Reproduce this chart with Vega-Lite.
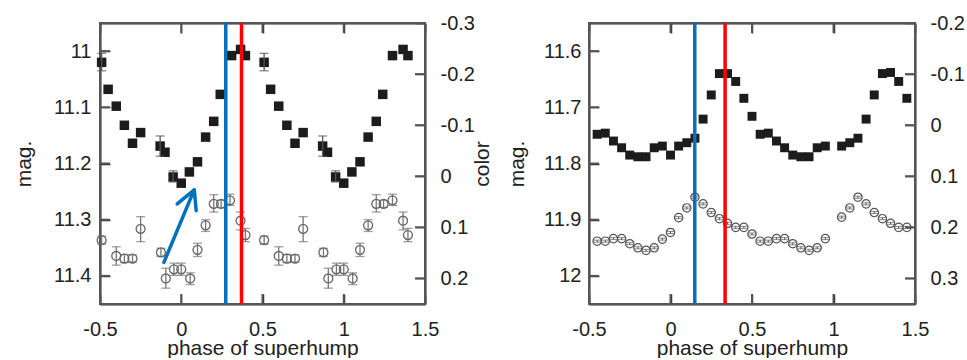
{
  "$schema": "https://vega.github.io/schema/vega-lite/v6.json",
  "background": "white",
  "padding": {"left": 13, "top": 13, "right": 2, "bottom": 0},
  "spacing": 13,
  "config": {
    "locale": {"number": {"decimal": ".", "thousands": ",", "grouping": [3], "currency": ["$", ""], "minus": "-"}},
    "font": "Liberation Sans",
    "view": {"stroke": null},
    "axis": {"domain": true, "domainColor": "#2a2a2a", "domainWidth": 2, "grid": false, "ticks": true, "tickSize": -10, "tickColor": "#2a2a2a", "tickWidth": 1.5,
      "labelFlush": false, "labelFont": "Liberation Sans", "labelFontSize": 20, "labelColor": "#222",
      "titleFont": "Liberation Sans", "titleFontSize": 21, "titleFontWeight": "normal", "titleColor": "#222"}
  },
  "datasets": {
    "xticks": [{"v": -0.5}, {"v": 0}, {"v": 0.5}, {"v": 1}, {"v": 1.5}],
    "magTicksL": [{"v": 11}, {"v": 11.1}, {"v": 11.2}, {"v": 11.3}, {"v": 11.4}],
    "colTicksL": [{"v": -0.2}, {"v": -0.1}, {"v": 0}, {"v": 0.1}, {"v": 0.2}],
    "magTicksR": [{"v": 11.6}, {"v": 11.7}, {"v": 11.8}, {"v": 11.9}, {"v": 12}],
    "colTicksR": [{"v": -0.1}, {"v": 0}, {"v": 0.1}, {"v": 0.2}, {"v": 0.3}],
    "sqL": [
      {"phase": -0.49, "mag": 11.020}, {"phase": -0.45, "mag": 11.068}, {"phase": -0.40, "mag": 11.098},
      {"phase": -0.35, "mag": 11.132}, {"phase": -0.30, "mag": 11.164}, {"phase": -0.25, "mag": 11.145},
      {"phase": -0.13, "mag": 11.169}, {"phase": -0.10, "mag": 11.180}, {"phase": -0.05, "mag": 11.224},
      {"phase": 0.00, "mag": 11.235}, {"phase": 0.05, "mag": 11.215}, {"phase": 0.10, "mag": 11.197},
      {"phase": 0.15, "mag": 11.153}, {"phase": 0.20, "mag": 11.125}, {"phase": 0.24, "mag": 11.077},
      {"phase": 0.31, "mag": 11.008}, {"phase": 0.365, "mag": 10.997}, {"phase": 0.395, "mag": 11.008},
      {"phase": 0.51, "mag": 11.020}, {"phase": 0.55, "mag": 11.068}, {"phase": 0.60, "mag": 11.098},
      {"phase": 0.65, "mag": 11.132}, {"phase": 0.70, "mag": 11.164}, {"phase": 0.75, "mag": 11.145},
      {"phase": 0.87, "mag": 11.169}, {"phase": 0.90, "mag": 11.180}, {"phase": 0.95, "mag": 11.224},
      {"phase": 1.00, "mag": 11.235}, {"phase": 1.05, "mag": 11.215}, {"phase": 1.10, "mag": 11.197},
      {"phase": 1.15, "mag": 11.153}, {"phase": 1.20, "mag": 11.125}, {"phase": 1.24, "mag": 11.077},
      {"phase": 1.30, "mag": 11.008}, {"phase": 1.365, "mag": 10.997}, {"phase": 1.395, "mag": 11.008}
    ],
    "errSqL": [
      {"phase": -0.49, "lo": 11.004, "hi": 11.035}, {"phase": -0.13, "lo": 11.151, "hi": 11.187},
      {"phase": -0.05, "lo": 11.213, "hi": 11.233}, {"phase": 0.51, "lo": 11.004, "hi": 11.035},
      {"phase": 0.87, "lo": 11.151, "hi": 11.187}, {"phase": 0.95, "lo": 11.213, "hi": 11.233}
    ],
    "circL": [
      {"phase": -0.49, "color": 0.125, "lo": 0.117, "hi": 0.133}, {"phase": -0.40, "color": 0.156, "lo": 0.138, "hi": 0.174},
      {"phase": -0.35, "color": 0.161, "lo": 0.153, "hi": 0.169}, {"phase": -0.30, "color": 0.161, "lo": 0.154, "hi": 0.168},
      {"phase": -0.25, "color": 0.103, "lo": 0.079, "hi": 0.128}, {"phase": -0.125, "color": 0.149, "lo": 0.141, "hi": 0.157},
      {"phase": -0.095, "color": 0.200, "lo": 0.180, "hi": 0.219}, {"phase": -0.045, "color": 0.182, "lo": 0.170, "hi": 0.194},
      {"phase": 0.0, "color": 0.182, "lo": 0.170, "hi": 0.194}, {"phase": 0.055, "color": 0.200, "lo": 0.189, "hi": 0.212},
      {"phase": 0.10, "color": 0.144, "lo": 0.131, "hi": 0.157}, {"phase": 0.15, "color": 0.096, "lo": 0.085, "hi": 0.108},
      {"phase": 0.20, "color": 0.054, "lo": 0.036, "hi": 0.070}, {"phase": 0.245, "color": 0.054, "lo": 0.047, "hi": 0.061},
      {"phase": 0.30, "color": 0.047, "lo": 0.035, "hi": 0.057}, {"phase": 0.365, "color": 0.087, "lo": 0.070, "hi": 0.105},
      {"phase": 0.395, "color": 0.115, "lo": 0.102, "hi": 0.128},
      {"phase": 0.51, "color": 0.125, "lo": 0.117, "hi": 0.133}, {"phase": 0.60, "color": 0.156, "lo": 0.138, "hi": 0.174},
      {"phase": 0.65, "color": 0.161, "lo": 0.153, "hi": 0.169}, {"phase": 0.70, "color": 0.161, "lo": 0.154, "hi": 0.168},
      {"phase": 0.75, "color": 0.103, "lo": 0.079, "hi": 0.128}, {"phase": 0.875, "color": 0.149, "lo": 0.141, "hi": 0.157},
      {"phase": 0.905, "color": 0.200, "lo": 0.180, "hi": 0.219}, {"phase": 0.955, "color": 0.182, "lo": 0.170, "hi": 0.194},
      {"phase": 1.0, "color": 0.182, "lo": 0.170, "hi": 0.194}, {"phase": 1.055, "color": 0.200, "lo": 0.189, "hi": 0.212},
      {"phase": 1.10, "color": 0.144, "lo": 0.131, "hi": 0.157}, {"phase": 1.15, "color": 0.096, "lo": 0.085, "hi": 0.108},
      {"phase": 1.20, "color": 0.054, "lo": 0.036, "hi": 0.070}, {"phase": 1.245, "color": 0.054, "lo": 0.047, "hi": 0.061},
      {"phase": 1.30, "color": 0.047, "lo": 0.035, "hi": 0.057}, {"phase": 1.365, "color": 0.087, "lo": 0.070, "hi": 0.105},
      {"phase": 1.395, "color": 0.115, "lo": 0.102, "hi": 0.128}
    ],
    "arrowL": [
      {"xa": -0.107, "xb": 0.075, "ya": 11.376, "yb": 11.250},
      {"xa": -0.025, "xb": 0.080, "ya": 11.272, "yb": 11.247},
      {"xa": 0.092, "xb": 0.080, "ya": 11.284, "yb": 11.247}
    ],
    "linesL": [{"phase": 0.274, "line": "first"}, {"phase": 0.371, "line": "second"}],
    "sqR": [
      {"phase": -0.45, "mag": 11.748}, {"phase": -0.40, "mag": 11.746}, {"phase": -0.35, "mag": 11.760},
      {"phase": -0.30, "mag": 11.772}, {"phase": -0.25, "mag": 11.785}, {"phase": -0.20, "mag": 11.788},
      {"phase": -0.15, "mag": 11.788}, {"phase": -0.10, "mag": 11.772}, {"phase": -0.05, "mag": 11.769},
      {"phase": 0.00, "mag": 11.785}, {"phase": 0.05, "mag": 11.769}, {"phase": 0.10, "mag": 11.763},
      {"phase": 0.15, "mag": 11.755}, {"phase": 0.20, "mag": 11.721}, {"phase": 0.25, "mag": 11.678},
      {"phase": 0.30, "mag": 11.640}, {"phase": 0.35, "mag": 11.640}, {"phase": 0.40, "mag": 11.654},
      {"phase": 0.45, "mag": 11.684}, {"phase": 0.50, "mag": 11.716}, {"phase": 0.55, "mag": 11.748},
      {"phase": 0.60, "mag": 11.746}, {"phase": 0.65, "mag": 11.760}, {"phase": 0.70, "mag": 11.772},
      {"phase": 0.75, "mag": 11.785}, {"phase": 0.80, "mag": 11.788}, {"phase": 0.85, "mag": 11.788},
      {"phase": 0.90, "mag": 11.772}, {"phase": 0.95, "mag": 11.769}, {"phase": 1.05, "mag": 11.769},
      {"phase": 1.10, "mag": 11.763}, {"phase": 1.15, "mag": 11.755}, {"phase": 1.20, "mag": 11.721},
      {"phase": 1.25, "mag": 11.678}, {"phase": 1.30, "mag": 11.640}, {"phase": 1.35, "mag": 11.638},
      {"phase": 1.40, "mag": 11.654}, {"phase": 1.45, "mag": 11.684}
    ],
    "circR": [
      {"phase": -0.45, "color": 0.227, "lo": 0.225, "hi": 0.229}, {"phase": -0.40, "color": 0.227, "lo": 0.225, "hi": 0.229},
      {"phase": -0.35, "color": 0.222, "lo": 0.220, "hi": 0.224}, {"phase": -0.30, "color": 0.222, "lo": 0.220, "hi": 0.224},
      {"phase": -0.25, "color": 0.232, "lo": 0.230, "hi": 0.234}, {"phase": -0.20, "color": 0.240, "lo": 0.238, "hi": 0.242},
      {"phase": -0.15, "color": 0.245, "lo": 0.243, "hi": 0.247}, {"phase": -0.10, "color": 0.240, "lo": 0.238, "hi": 0.242},
      {"phase": -0.05, "color": 0.223, "lo": 0.221, "hi": 0.225}, {"phase": 0.00, "color": 0.210, "lo": 0.208, "hi": 0.212},
      {"phase": 0.05, "color": 0.181, "lo": 0.179, "hi": 0.183}, {"phase": 0.10, "color": 0.162, "lo": 0.160, "hi": 0.164},
      {"phase": 0.15, "color": 0.141, "lo": 0.139, "hi": 0.143}, {"phase": 0.20, "color": 0.154, "lo": 0.152, "hi": 0.156},
      {"phase": 0.25, "color": 0.171, "lo": 0.169, "hi": 0.173}, {"phase": 0.30, "color": 0.183, "lo": 0.181, "hi": 0.185},
      {"phase": 0.35, "color": 0.192, "lo": 0.190, "hi": 0.194}, {"phase": 0.40, "color": 0.200, "lo": 0.198, "hi": 0.202},
      {"phase": 0.45, "color": 0.200, "lo": 0.198, "hi": 0.202}, {"phase": 0.50, "color": 0.213, "lo": 0.211, "hi": 0.215},
      {"phase": 0.55, "color": 0.227, "lo": 0.225, "hi": 0.229}, {"phase": 0.60, "color": 0.227, "lo": 0.225, "hi": 0.229},
      {"phase": 0.65, "color": 0.222, "lo": 0.220, "hi": 0.224}, {"phase": 0.70, "color": 0.222, "lo": 0.220, "hi": 0.224},
      {"phase": 0.75, "color": 0.232, "lo": 0.230, "hi": 0.234}, {"phase": 0.80, "color": 0.240, "lo": 0.238, "hi": 0.242},
      {"phase": 0.85, "color": 0.245, "lo": 0.243, "hi": 0.247}, {"phase": 0.90, "color": 0.240, "lo": 0.238, "hi": 0.242},
      {"phase": 0.95, "color": 0.222, "lo": 0.220, "hi": 0.224}, {"phase": 1.05, "color": 0.180, "lo": 0.178, "hi": 0.182},
      {"phase": 1.10, "color": 0.162, "lo": 0.160, "hi": 0.164}, {"phase": 1.15, "color": 0.141, "lo": 0.139, "hi": 0.143},
      {"phase": 1.20, "color": 0.154, "lo": 0.152, "hi": 0.156}, {"phase": 1.25, "color": 0.171, "lo": 0.169, "hi": 0.173},
      {"phase": 1.30, "color": 0.183, "lo": 0.181, "hi": 0.185}, {"phase": 1.35, "color": 0.192, "lo": 0.190, "hi": 0.194},
      {"phase": 1.40, "color": 0.200, "lo": 0.198, "hi": 0.202}, {"phase": 1.45, "color": 0.200, "lo": 0.198, "hi": 0.202}
    ],
    "linesR": [{"phase": 0.149, "line": "first"}, {"phase": 0.335, "line": "second"}]
  },
  "hconcat": [
    {
      "width": 325, "height": 281,
      "layer": [
        {"layer": [
          {"data": {"values": [{}]}, "mark": {"type": "rect", "filled": false, "stroke": "#555555", "fill": null, "strokeWidth": 2},
           "encoding": {
             "x": {"datum": -0.5, "type": "quantitative", "scale": {"domain": [-0.5, 1.5], "nice": false, "zero": false},
                   "axis": {"orient": "bottom", "values": [-0.5, 0, 0.5, 1, 1.5], "format": ".1~f", "labelPadding": 25, "title": "phase of superhump", "titlePadding": -2}},
             "x2": {"datum": 1.5},
             "y": {"datum": 10.95, "type": "quantitative", "scale": {"domain": [10.95, 11.45], "reverse": true, "nice": false, "zero": false},
                   "axis": {"orient": "left", "values": [11, 11.1, 11.2, 11.3, 11.4], "format": ".1~f", "labelPadding": 19, "title": "mag.", "titlePadding": 19}},
             "y2": {"datum": 11.45}}},
          {"data": {"name": "xticks"}, "mark": {"type": "tick", "orient": "vertical", "size": 20, "thickness": 2, "color": "#555555", "clip": true, "opacity": 1},
           "encoding": {"x": {"field": "v", "type": "quantitative"}, "y": {"datum": 11.45, "type": "quantitative"}}},
          {"data": {"name": "xticks"}, "mark": {"type": "tick", "orient": "vertical", "size": 20, "thickness": 2, "color": "#555555", "clip": true, "opacity": 1},
           "encoding": {"x": {"field": "v", "type": "quantitative"}, "y": {"datum": 10.95, "type": "quantitative"}}},
          {"data": {"name": "magTicksL"}, "mark": {"type": "tick", "orient": "horizontal", "size": 20, "thickness": 2, "color": "#555555", "clip": true, "opacity": 1},
           "encoding": {"y": {"field": "v", "type": "quantitative"}, "x": {"datum": -0.5, "type": "quantitative"}}},
          {"data": {"name": "sqL"}, "mark": {"type": "square", "size": 90, "filled": true, "color": "#1c1c1c", "opacity": 1},
           "encoding": {"x": {"field": "phase", "type": "quantitative"}, "y": {"field": "mag", "type": "quantitative"}}},
          {"data": {"name": "errSqL"}, "mark": {"type": "errorbar", "ticks": {"size": 9}, "color": "#555", "thickness": 1.3},
           "encoding": {"x": {"field": "phase", "type": "quantitative"}, "y": {"field": "lo", "type": "quantitative", "title": "mag."}, "y2": {"field": "hi"}}},
          {"data": {"name": "arrowL"}, "mark": {"type": "rule", "color": "#0070C0", "strokeWidth": 3.5, "strokeCap": "round"},
           "encoding": {"x": {"field": "xa", "type": "quantitative"}, "x2": {"field": "xb"}, "y": {"field": "ya", "type": "quantitative", "title": "mag."}, "y2": {"field": "yb"}}}
        ]},
        {"layer": [
          {"data": {"name": "colTicksL"}, "mark": {"type": "tick", "orient": "horizontal", "size": 20, "thickness": 2, "color": "#555555", "clip": true, "opacity": 1},
           "encoding": {"y": {"field": "v", "type": "quantitative", "title": "color"}, "x": {"datum": 1.5, "type": "quantitative", "axis": {"orient": "top", "values": [-0.5, 0, 0.5, 1, 1.5], "labels": false, "title": null}}}},
          {"data": {"name": "circL"}, "mark": {"type": "errorbar", "ticks": {"size": 9}, "color": "#777", "thickness": 1.3},
           "encoding": {
             "x": {"field": "phase", "type": "quantitative"},
             "y": {"field": "lo", "type": "quantitative", "title": "color"}, "y2": {"field": "hi"}}},
          {"data": {"name": "circL"}, "mark": {"type": "point", "shape": "circle", "size": 80, "filled": false, "color": "#666", "strokeWidth": 1.3, "opacity": 1},
           "encoding": {
             "x": {"field": "phase", "type": "quantitative"},
             "y": {"field": "color", "type": "quantitative", "scale": {"domain": [-0.3, 0.25], "reverse": true, "nice": false, "zero": false},
                   "axis": {"orient": "right", "values": [-0.3, -0.2, -0.1, 0, 0.1, 0.2], "format": ".1~f", "labelPadding": 25, "labelAlign": "left", "title": "color", "titleAngle": -90, "titleBaseline": "top", "titlePadding": -3}}}}
        ]},
        {"data": {"name": "linesL"}, "mark": {"type": "rule", "strokeWidth": 3.5},
         "encoding": {"x": {"field": "phase", "type": "quantitative", "axis": null},
           "color": {"field": "line", "type": "nominal", "scale": {"domain": ["first", "second"], "range": ["#0070C0", "#FF0000"]}, "legend": null}}}
      ],
      "resolve": {"scale": {"y": "independent"}, "axis": {"x": "independent"}}
    },
    {
      "width": 326, "height": 281,
      "layer": [
        {"layer": [
          {"data": {"values": [{}]}, "mark": {"type": "rect", "filled": false, "stroke": "#555555", "fill": null, "strokeWidth": 2},
           "encoding": {
             "x": {"datum": -0.5, "type": "quantitative", "scale": {"domain": [-0.5, 1.5], "nice": false, "zero": false},
                   "axis": {"orient": "bottom", "values": [-0.5, 0, 0.5, 1, 1.5], "format": ".1~f", "labelPadding": 25, "title": "phase of superhump", "titlePadding": -2}},
             "x2": {"datum": 1.5},
             "y": {"datum": 11.55, "type": "quantitative", "scale": {"domain": [11.55, 12.05], "reverse": true, "nice": false, "zero": false},
                   "axis": {"orient": "left", "values": [11.6, 11.7, 11.8, 11.9, 12], "format": ".1~f", "labelPadding": 18, "title": "mag.", "titlePadding": 16}},
             "y2": {"datum": 12.05}}},
          {"data": {"name": "xticks"}, "mark": {"type": "tick", "orient": "vertical", "size": 20, "thickness": 2, "color": "#555555", "clip": true, "opacity": 1},
           "encoding": {"x": {"field": "v", "type": "quantitative"}, "y": {"datum": 12.05, "type": "quantitative"}}},
          {"data": {"name": "xticks"}, "mark": {"type": "tick", "orient": "vertical", "size": 20, "thickness": 2, "color": "#555555", "clip": true, "opacity": 1},
           "encoding": {"x": {"field": "v", "type": "quantitative"}, "y": {"datum": 11.55, "type": "quantitative"}}},
          {"data": {"name": "magTicksR"}, "mark": {"type": "tick", "orient": "horizontal", "size": 20, "thickness": 2, "color": "#555555", "clip": true, "opacity": 1},
           "encoding": {"y": {"field": "v", "type": "quantitative"}, "x": {"datum": -0.5, "type": "quantitative"}}},
          {"data": {"name": "sqR"}, "mark": {"type": "square", "size": 80, "filled": true, "color": "#1c1c1c", "opacity": 1},
           "encoding": {"x": {"field": "phase", "type": "quantitative"}, "y": {"field": "mag", "type": "quantitative"}}}
        ]},
        {"layer": [
          {"data": {"name": "colTicksR"}, "mark": {"type": "tick", "orient": "horizontal", "size": 20, "thickness": 2, "color": "#555555", "clip": true, "opacity": 1},
           "encoding": {"y": {"field": "v", "type": "quantitative", "title": null}, "x": {"datum": 1.5, "type": "quantitative", "axis": {"orient": "top", "values": [-0.5, 0, 0.5, 1, 1.5], "labels": false, "title": null}}}},
          {"data": {"name": "circR"}, "mark": {"type": "errorbar", "ticks": {"size": 8}, "color": "#555", "thickness": 1},
           "encoding": {
             "x": {"field": "phase", "type": "quantitative"},
             "y": {"field": "lo", "type": "quantitative", "title": null}, "y2": {"field": "hi"}}},
          {"data": {"name": "circR"}, "mark": {"type": "point", "shape": "circle", "size": 70, "filled": false, "color": "#555", "strokeWidth": 1.2, "opacity": 1},
           "encoding": {
             "x": {"field": "phase", "type": "quantitative"},
             "y": {"field": "color", "type": "quantitative", "scale": {"domain": [-0.2, 0.35], "reverse": true, "nice": false, "zero": false},
                   "axis": {"orient": "right", "values": [-0.2, -0.1, 0, 0.1, 0.2, 0.3], "format": ".1~f", "labelPadding": 25, "labelAlign": "left", "title": null}}}}
        ]},
        {"data": {"name": "linesR"}, "mark": {"type": "rule", "strokeWidth": 3.5},
         "encoding": {"x": {"field": "phase", "type": "quantitative", "axis": null},
           "color": {"field": "line", "type": "nominal", "scale": {"domain": ["first", "second"], "range": ["#0070C0", "#FF0000"]}, "legend": null}}}
      ],
      "resolve": {"scale": {"y": "independent"}, "axis": {"x": "independent"}}
    }
  ]
}
